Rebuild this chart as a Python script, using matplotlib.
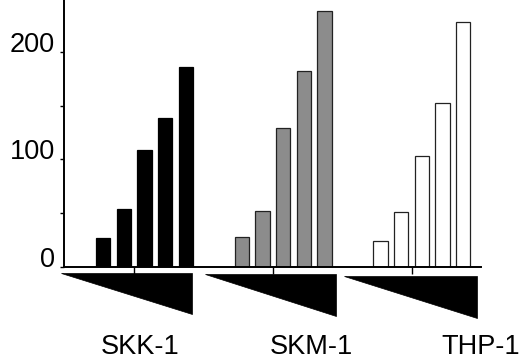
import numpy as np
import matplotlib
matplotlib.use("Agg")
import matplotlib.pyplot as plt
from matplotlib.patches import Polygon
from matplotlib.ticker import MultipleLocator

plt.rcParams["font.family"] = ["Liberation Sans", "DejaVu Sans"]

# data
cell_lines = ["SKK-1", "SKM-1", "THP-1"]
skk1 = [27, 54, 109, 138, 186]
skm1 = [28, 52, 129, 182, 238]
thp1 = [24, 51, 103, 152, 228]
bar_colors = ["black", "#8c8c8c", "white"]
yticks = [0, 100, 200]

series = [skk1, skm1, thp1]

fig = plt.figure(figsize=(5.25, 3.6), dpi=100)
ax = fig.add_axes([64 / 525, 93 / 360, 417 / 525, 267 / 360])

step = 0.149
width = 0.103
offsets = (np.arange(5) - 2) * step
for g, (vals, col) in enumerate(zip(series, bar_colors)):
    ax.bar(g + offsets, vals, width=width, color=col,
           edgecolor="black" if col == "black" else "#222222", linewidth=0.9,
           zorder=2)

ax.set_xlim(-0.58, 2.426)
ax.set_ylim(0, 248)

ax.spines["top"].set_visible(False)
ax.spines["right"].set_visible(False)
ax.spines["left"].set_linewidth(1.4)
ax.spines["bottom"].set_linewidth(1.4)

ax.set_yticks(yticks)
ax.set_yticklabels([str(t) for t in yticks])
ax.yaxis.set_minor_locator(MultipleLocator(50))
ax.tick_params(axis="y", which="major", direction="out", length=3, width=1, pad=3.5, labelsize=19.5)
ax.tick_params(axis="y", which="minor", direction="out", length=3, width=1)
for lab in ax.get_yticklabels():
    lab.set_va("baseline")

ax.set_xticks(np.arange(len(cell_lines)) - 0.5 * step)
ax.set_xticklabels([])
ax.tick_params(axis="x", direction="out", length=5, width=1)

# concentration wedges under each group (x in data, y in pixels below the axis)
trans = ax.get_xaxis_transform()
wedge_x = [(-0.604, 0.345), (-0.562, 0.38), (-0.562, 0.394)]
wedge_y = [(272.5, 313.5), (273.5, 315.7), (275.7, 318.3)]
for g in range(len(cell_lines)):
    x0, x1 = g + wedge_x[g][0], g + wedge_x[g][1]
    yt = -(wedge_y[g][0] - 267) / 267
    yb = -(wedge_y[g][1] - 267) / 267
    tri = Polygon([[x0, yt], [x1, yt], [x1, yb]], closed=True,
                  facecolor="black", edgecolor="black", linewidth=0.5,
                  transform=trans, clip_on=False)
    ax.add_patch(tri)

label_x = [140, 311, 481]
for name, lx in zip(cell_lines, label_x):
    fig.text(lx / 525, 6 / 360, name, ha="center", va="baseline", fontsize=19.5)

fig.savefig("out.png", dpi=100)
